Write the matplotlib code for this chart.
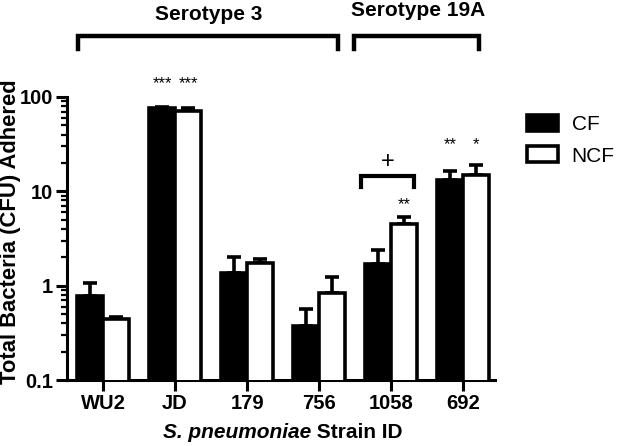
import matplotlib
matplotlib.use("Agg")
import matplotlib.pyplot as plt
import matplotlib.transforms as mtransforms
from matplotlib.patches import Patch
import numpy as np

plt.rcParams['font.family'] = ['Liberation Sans', 'DejaVu Sans']

# ---- data ----
strains = ["WU2", "JD", "179", "756", "1058", "692"]
cf_mean = [0.77, 76.0, 1.36, 0.37, 1.69, 13.1]
cf_top = [1.06, 78.0, 2.0, 0.56, 2.37, 16.6]
ncf_mean = [0.44, 71.0, 1.73, 0.84, 4.46, 15.0]
ncf_top = [0.46, 76.0, 1.9, 1.24, 5.4, 19.1]
cf_sig = ["", "***", "", "", "", "**"]
ncf_sig = ["", "***", "", "", "**", "*"]
groups = ["Serotype 3", "Serotype 19A"]
yticks = [0.1, 1, 10, 100]
ytick_labels = ["0.1", "1", "10", "100"]

W, H = 618, 446
fig = plt.figure(figsize=(W / 100, H / 100), dpi=100)
ax = fig.add_axes([67 / W, 1 - 380 / H, 428 / W, 283 / H])

x = np.arange(len(strains))
bw = 0.36
lw = 2.6
ax.bar(x - bw / 2, cf_mean, width=bw, color="black", edgecolor="black", linewidth=lw, zorder=3, label="CF")
ax.bar(x + bw / 2, ncf_mean, width=bw, color="white", edgecolor="black", linewidth=lw, zorder=3, label="NCF")
cf_err = [np.zeros(len(x)), np.array(cf_top) - np.array(cf_mean)]
ncf_err = [np.zeros(len(x)), np.array(ncf_top) - np.array(ncf_mean)]
ax.errorbar(x - bw / 2, cf_mean, yerr=cf_err, fmt="none", ecolor="black", elinewidth=2.6, capsize=5, capthick=2.6, zorder=2)
ax.errorbar(x + bw / 2, ncf_mean, yerr=ncf_err, fmt="none", ecolor="black", elinewidth=2.6, capsize=5, capthick=2.6, zorder=2)

ax.set_yscale("log")
ax.set_ylim(0.1, 100)
ax.set_xlim(-0.5, 5.44)
ax.set_yticks(yticks)
ax.set_yticklabels(ytick_labels, fontweight="bold", fontsize=14.5)
ax.set_xticks(x)
ax.set_xticklabels(strains, fontweight="bold", fontsize=14.5)
for s in ["top", "right"]:
    ax.spines[s].set_visible(False)
for s in ["left", "bottom"]:
    ax.spines[s].set_linewidth(2.2)
ax.tick_params(axis="both", which="major", length=8, width=2.2, direction="out", pad=2)
ax.tick_params(axis="y", which="minor", length=4.5, width=1.6, direction="out")

# significance stars
for i in range(len(x)):
    if cf_sig[i]:
        yv = 137 if cf_sig[i] == "***" else 31
        ax.text(x[i] - bw / 2, yv, cf_sig[i], ha="center", va="center", fontsize=12, clip_on=False)
    if ncf_sig[i]:
        if i == 4:
            yv = 7.3
        elif i == 1:
            yv = 137
        else:
            yv = 31
        ax.text(x[i] + bw / 2, yv, ncf_sig[i], ha="center", va="center", fontsize=12, clip_on=False)

# '+' bracket over 1058
bx0, bx1 = 3.58, 4.31
ax.plot([bx0, bx0, bx1, bx1], [11.0, 14.4, 14.4, 11.0], color="black", lw=3, clip_on=False, solid_joinstyle="miter")
ax.text((bx0 + bx1) / 2, 20.7, "+", ha="center", va="center", fontsize=17)

# group brackets
trans = mtransforms.blended_transform_factory(ax.transData, ax.transAxes)
ends = [(-0.35, 3.26), (3.49, 5.22)]
for (a, b), g in zip(ends, groups):
    ax.plot([a, a, b, b], [1.168, 1.214, 1.214, 1.168], color="black", lw=3.2, transform=trans, clip_on=False, solid_joinstyle="miter")
fig.text(209 / W, 1 - 14 / H, groups[0], ha="center", va="center", fontsize=15, fontweight="bold")
fig.text(418 / W, 1 - 11 / H, groups[1], ha="center", va="center", fontsize=15, fontweight="bold")

# axis labels
fig.text(11 / W, 1 - 232 / H, "Total Bacteria (CFU) Adhered", rotation=90, ha="center", va="center", fontsize=15.8, fontweight="bold")
t1 = fig.text(163 / W, 1 - 433 / H, "S. pneumoniae", ha="left", va="center", fontsize=15, fontweight="bold", fontstyle="italic")
ax.annotate(" Strain ID", xy=(1, 0.5), xycoords=t1, ha="left", va="center", fontsize=15, fontweight="bold")

# legend
handles = [Patch(facecolor="black", edgecolor="black", linewidth=2.6, label="CF"),
           Patch(facecolor="white", edgecolor="black", linewidth=2.6, label="NCF")]
fig.legend(handles=handles, loc="upper left", bbox_to_anchor=(508 / W, 1 - 96 / H), frameon=False,
           fontsize=15, handlelength=1.5, handleheight=0.8, labelspacing=0.6, handletextpad=0.65)

fig.savefig("out.png", dpi=100)
